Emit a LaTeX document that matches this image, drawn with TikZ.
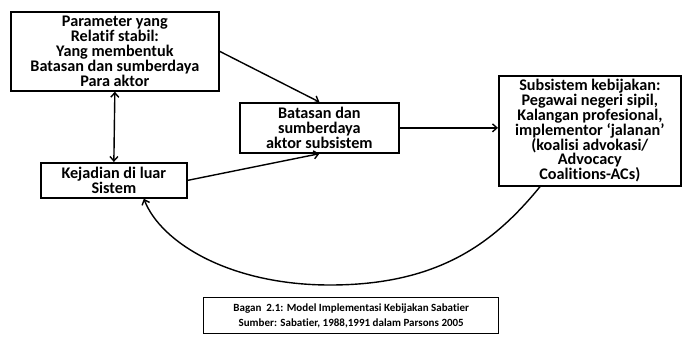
\documentclass[tikz,border=0pt]{standalone}
\usepackage{fontspec}
\setmainfont{Carlito}[Ligatures=NoCommon]
\usetikzlibrary{arrows.meta}
\begin{document}
\begin{tikzpicture}[x=1pt,y=-1pt,
  box/.style={draw,line width=1.7pt,inner sep=0pt,align=center,anchor=north west,
    font=\bfseries\fontsize{16.2}{14.8}\selectfont},
  note/.style={box,line width=1.4pt,font=\bfseries\fontsize{11}{14.5}\selectfont},
  link/.style={line width=1.4pt,-{Straight Barb[length=4.5pt,width=8pt]}},
  both/.style={line width=1.4pt,{Straight Barb[length=4.5pt,width=8pt]}-{Straight Barb[length=4.5pt,width=8pt]}}]
\useasboundingbox (0,0) rectangle (683,338);

% boxes
\node[box,minimum width=208pt,minimum height=79pt] (param) at (10,11)
  {Parameter yang\\Relatif stabil:\\Yang membentuk\\Batasan dan sumberdaya\\Para aktor};
\node[box,minimum width=159pt,minimum height=50pt] (batas) at (239,102)
  {Batasan dan\\sumberdaya\\aktor subsistem};
\node[box,minimum width=146pt,minimum height=35pt] (kejad) at (40,162)
  {Kejadian di luar\\Sistem};
\node[box,minimum width=182pt,minimum height=110pt] (subsis) at (498,75)
  {Subsistem kebijakan:\\Pegawai negeri sipil,\\Kalangan profesional,\\implementor ‘jalanan’\\(koalisi advokasi/\\Advocacy\\Coalitions-ACs)};
\node[note,minimum width=295pt,minimum height=36pt] (caption) at (203,297)
  {Bagan\ \ 2.1: Model Implementasi Kebijakan Sabatier\\Sumber: Sabatier, 1988,1991 dalam Parsons 2005};

% connectors
\draw[link] (param.east) -- (batas.north);
\draw[link] (kejad.east) -- (batas.south);
\draw[link] (batas.east) -- (batas.east -| subsis.west);
\draw[both] (param.south) -- (kejad.north);

% feedback loop from the policy subsystem back to external events
\coordinate (loopstart) at ([xshift=42pt]subsis.south west);
\coordinate (loopend) at ([xshift=30pt]kejad.south);
\coordinate (loopbottom) at (330,285);
\draw[link] (loopstart) .. controls +(-45,55) and +(110,0) .. (loopbottom)
  .. controls +(-100,0) and +(17,44) .. (loopend);
\end{tikzpicture}
\end{document}
